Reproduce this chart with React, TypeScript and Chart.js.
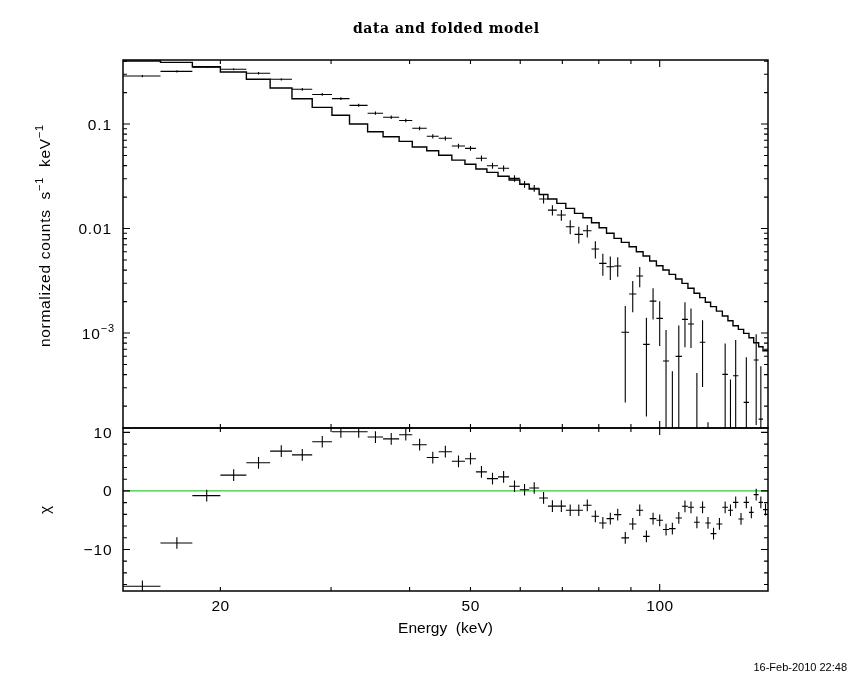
import React, { useEffect, useRef } from "react";
import { Chart, registerables } from "chart.js";

Chart.register(...registerables);

// ---------- data ----------
const binEdges = [
  14.0, 16.06, 18.05, 20.0, 22.0, 24.0, 26.0, 28.0, 30.1, 32.1, 34.3, 36.3, 38.5, 40.4, 42.6,
  44.5, 46.7, 49.0, 51.0, 53.1, 55.3, 57.6, 59.9, 62.0, 64.3, 66.4, 68.6, 70.9, 73.2, 75.5,
  77.9, 80.1, 82.3, 84.6, 86.9, 89.4, 91.8, 94.1, 96.4, 98.8, 101.2, 103.5, 106.0, 108.5, 110.9,
  113.4, 115.8, 118.2, 120.5, 123.1, 125.8, 128.4, 130.8, 133.4, 136.0, 138.7, 141.1, 143.7, 146.0,
  148.7,
];

const rate = [
  0.288, 0.319, 0.349, 0.334, 0.306, 0.268, 0.215, 0.192, 0.175, 0.151,
  0.127, 0.116, 0.108, 0.091, 0.0763, 0.073, 0.0616, 0.0585, 0.047, 0.0399,
  0.0377, 0.0302, 0.0265, 0.0243, 0.0192, 0.015, 0.01346, 0.0104, 0.0088, 0.00953,
  0.00637, 0.00464, 0.00431, 0.00438, 0.001016, 0.00236, 0.00351, 0.000779, 0.00202, 0.00138,
  0.00054, -0.00016, 0.000598, 0.00135, 0.00122, -0.000046, 0.000815, -0.00027, -0.00113, -0.00064,
  0.000402, -0.00005, 0.00039, -0.00083, 0.000217, -0.00056, 0.000552, 0.00015, -0.00028,
];

const rateErr = [
  0.0069, 0.0079, 0.006, 0.0072, 0.0079, 0.0069, 0.0066, 0.0057, 0.0053, 0.005,
  0.0046, 0.0045, 0.0041, 0.0039, 0.0036, 0.0034, 0.0032, 0.0031, 0.003, 0.0026,
  0.0025, 0.0022, 0.002, 0.0018, 0.0018, 0.0017, 0.0016, 0.0016, 0.0016, 0.0013,
  0.0012, 0.0011, 0.0011, 0.00093, 0.0008, 0.00078, 0.00077, 0.00062, 0.00067, 0.00063,
  0.00053, 0.00059, 0.00058, 0.00062, 0.0005, 0.00046, 0.00051, 0.00041, 0.0004, 0.0004,
  0.00039, 0.00041, 0.00047, 0.0004, 0.00037, 0.0004, 0.00042, 0.00033, 0.0003,
];

const model = [
  0.401, 0.389, 0.353, 0.3145, 0.268, 0.221, 0.1747, 0.1445, 0.1212, 0.1,
  0.0844, 0.0756, 0.0683, 0.0602, 0.0555, 0.0502, 0.0452, 0.0412, 0.0371, 0.0345,
  0.0316, 0.0291, 0.0265, 0.0239, 0.0212, 0.01916, 0.01742, 0.01561, 0.01398, 0.01269,
  0.01136, 0.01018, 0.009, 0.00806, 0.00738, 0.0067, 0.006, 0.00546, 0.00489, 0.00441,
  0.00401, 0.00364, 0.00329, 0.00299, 0.00268, 0.0024, 0.00218, 0.00197, 0.00179, 0.00162,
  0.001455, 0.00131, 0.001175, 0.001085, 0.000993, 0.000902, 0.000808, 0.00074, 0.000677,
];

const chi = [
  -16.3, -8.9, -0.8, 2.7, 4.8, 6.8, 6.15, 8.4, 10.1, 10.1,
  9.2, 8.9, 9.6, 7.9, 5.7, 6.7, 5.06, 5.5, 3.25, 2.1,
  2.4, 0.8, 0.2, 0.5, -1.2, -2.6, -2.6, -3.3, -3.3, -2.46,
  -4.34, -5.47, -4.74, -4.05, -8.03, -5.64, -3.3, -7.76, -4.74, -5.02,
  -6.6, -6.44, -4.62, -2.63, -2.8, -5.36, -2.8, -5.47, -7.3, -5.64,
  -2.8, -3.3, -1.95, -4.79, -1.95, -3.66, -0.63, -1.95, -3.2,
];
const CHI_ERR = 1;

const xMin = 14.0;
const xMax = 148.7;
const rateMin = 1.234e-4;
const rateMax = 0.41;
const chiMin = -17.1;
const chiMax = 10.75;

const xTickLabels = [20, 50, 100];
const rateTickLabels: [number, string, string][] = [
  [0.1, "0.1", ""],
  [0.01, "0.01", ""],
  [0.001, "10", "\u22123"],
];
const chiTickLabels: [number, string][] = [
  [10, "10"],
  [0, "0"],
  [-10, "\u221210"],
];

const titleText = "data and folded model";
const xTitle = "Energy  (keV)";
const stampText = "16-Feb-2010 22:48";

// ---------- helpers ----------
const binCenters = binEdges.slice(0, -1).map((lo, i) => (lo + binEdges[i + 1]) / 2);

const SANS = '"Liberation Sans", Arial, sans-serif';
const MAIN_FONT = `15.5px ${SANS}`;
const SUP_FONT = `11px ${SANS}`;

function logTicks(min: number, max: number) {
  const majors: number[] = [];
  const minors: number[] = [];
  for (let e = Math.floor(Math.log10(min)) - 1; e <= Math.ceil(Math.log10(max)); e++) {
    for (let m = 1; m < 10; m++) {
      const v = m * Math.pow(10, e);
      if (v < min * 0.9999 || v > max * 1.0001) continue;
      (m === 1 ? majors : minors).push(v);
    }
  }
  return { majors, minors };
}

type Run = { t: string; sup?: boolean };

function setSpacing(ctx: any, px: number) {
  if ("letterSpacing" in ctx) ctx.letterSpacing = `${px}px`;
}

function runsWidth(ctx: CanvasRenderingContext2D, runs: Run[]) {
  let w = 0;
  for (const r of runs) {
    ctx.font = r.sup ? SUP_FONT : MAIN_FONT;
    w += ctx.measureText(r.t).width;
  }
  return w;
}

function drawRuns(
  ctx: CanvasRenderingContext2D,
  runs: Run[],
  x: number,
  y: number,
  align: string,
  spacing = 0
) {
  setSpacing(ctx, spacing);
  const w = runsWidth(ctx, runs) - spacing;
  let cx = align === "right" ? x - w : align === "center" ? x - w / 2 : x;
  ctx.textAlign = "left";
  ctx.textBaseline = "alphabetic";
  for (const r of runs) {
    ctx.font = r.sup ? SUP_FONT : MAIN_FONT;
    ctx.fillText(r.t, cx, r.sup ? y - 6.5 : y);
    cx += ctx.measureText(r.t).width;
  }
  setSpacing(ctx, 0);
}

function drawCrosses(chart: any, yId: string, ds: any) {
  const { ctx, chartArea: a } = chart;
  const xs = chart.scales.x;
  const ys = chart.scales[yId];
  const isLog = ys.type === "logarithmic";
  const py = (v: number) => (isLog && v <= 0 ? a.bottom + 60 : ys.getPixelForValue(v));
  ctx.save();
  ctx.beginPath();
  ctx.rect(a.left, a.top, a.right - a.left, a.bottom - a.top);
  ctx.clip();
  ctx.strokeStyle = "#000";
  ctx.lineWidth = 1.1;
  ctx.beginPath();
  ds.data.forEach((p: any, i: number) => {
    const x0 = xs.getPixelForValue(ds.xLo[i]);
    const x1 = xs.getPixelForValue(ds.xHi[i]);
    const xc = xs.getPixelForValue(p.x);
    const yc = py(p.y);
    const yl = py(p.y - ds.errY[i]);
    const yh = py(p.y + ds.errY[i]);
    ctx.moveTo(x0, yc);
    ctx.lineTo(x1, yc);
    ctx.moveTo(xc, yl);
    ctx.lineTo(xc, yh);
  });
  ctx.stroke();
  ctx.restore();
}

function drawFrame(chart: any, yId: string) {
  const { ctx, chartArea: a } = chart;
  const xs = chart.scales.x;
  const ys = chart.scales[yId];
  ctx.save();
  ctx.strokeStyle = "#000";
  ctx.lineWidth = 1.1;
  ctx.beginPath();
  const xt = logTicks(xs.min, xs.max);
  const xTick = (v: number, len: number) => {
    const px = xs.getPixelForValue(v);
    ctx.moveTo(px, a.top);
    ctx.lineTo(px, a.top + len);
    ctx.moveTo(px, a.bottom);
    ctx.lineTo(px, a.bottom - len);
  };
  xt.majors.forEach((v) => xTick(v, 7));
  xt.minors.forEach((v) => xTick(v, 4));
  const yTick = (v: number, len: number) => {
    const py = ys.getPixelForValue(v);
    ctx.moveTo(a.left, py);
    ctx.lineTo(a.left + len, py);
    ctx.moveTo(a.right, py);
    ctx.lineTo(a.right - len, py);
  };
  if (ys.type === "logarithmic") {
    const yt = logTicks(ys.min, ys.max);
    yt.majors.forEach((v) => yTick(v, 7));
    yt.minors.forEach((v) => yTick(v, 4));
  } else {
    for (let v = Math.ceil(ys.min / 2) * 2; v <= ys.max; v += 2) {
      yTick(v, v % 10 === 0 ? 7 : 4);
    }
  }
  ctx.stroke();
  ctx.lineWidth = 1.5;
  ctx.strokeRect(a.left, a.top, a.right - a.left, a.bottom - a.top);
  ctx.restore();
}

const topPlugin = {
  id: "topPanel",
  afterDatasetsDraw(chart: any) {
    const ctx: CanvasRenderingContext2D = chart.ctx;
    drawCrosses(chart, "y", chart.data.datasets[1]);
    drawFrame(chart, "y");
    const ys = chart.scales.y;
    ctx.save();
    ctx.fillStyle = "#000";
    rateTickLabels.forEach(([v, main, sup]) => {
      const py = ys.getPixelForValue(v);
      const runs: Run[] = [{ t: main }];
      if (sup) runs.push({ t: sup, sup: true });
      drawRuns(ctx, runs, sup ? 114 : 111, py + 5.5, "right", 0.8);
    });
    // y-axis title, rotated
    ctx.save();
    ctx.translate(49.5, 236);
    ctx.rotate(-Math.PI / 2);
    drawRuns(
      ctx,
      [
        { t: "normalized counts  s" },
        { t: "\u22121", sup: true },
        { t: "  keV" },
        { t: "\u22121", sup: true },
      ],
      0,
      0,
      "center",
      0.7
    );
    ctx.restore();
    // title
    ctx.font = `bold 14px "DejaVu Serif", "Liberation Serif", serif`;
    const w = ctx.measureText(titleText).width;
    const target = 186;
    setSpacing(ctx, (target - w) / (titleText.length - 1));
    ctx.textAlign = "left";
    ctx.textBaseline = "alphabetic";
    ctx.fillText(titleText, 353, 33);
    setSpacing(ctx, 0);
    // time stamp
    ctx.font = `11px ${SANS}`;
    ctx.textAlign = "right";
    ctx.fillText(stampText, 847, 671);
    ctx.restore();
  },
};

const botPlugin = {
  id: "chiPanel",
  afterDatasetsDraw(chart: any) {
    const ctx: CanvasRenderingContext2D = chart.ctx;
    drawCrosses(chart, "y", chart.data.datasets[1]);
    drawFrame(chart, "y");
    const xs = chart.scales.x;
    const ys = chart.scales.y;
    ctx.save();
    ctx.fillStyle = "#000";
    chiTickLabels.forEach(([v, t]) => {
      drawRuns(ctx, [{ t }], 111.5, ys.getPixelForValue(v) + 5.5, "right", 0.8);
    });
    xTickLabels.forEach((v) => {
      drawRuns(ctx, [{ t: String(v) }], xs.getPixelForValue(v), 610.5, "center", 0.5);
    });
    const a = chart.chartArea;
    drawRuns(ctx, [{ t: xTitle }], (a.left + a.right) / 2, 632.5, "center");
    ctx.save();
    ctx.translate(49.5, 510);
    ctx.rotate(-Math.PI / 2);
    drawRuns(ctx, [{ t: "\u03c7" }], 0, 0, "center");
    ctx.restore();
    ctx.restore();
  },
};

function baseOptions(padding: any, yScale: any) {
  return {
    responsive: false,
    animation: false as const,
    events: [] as any[],
    layout: { padding },
    plugins: {
      legend: { display: false },
      tooltip: { enabled: false },
      title: { display: false },
    },
    scales: {
      x: { type: "logarithmic", min: xMin, max: xMax, display: false },
      y: { ...yScale, display: false },
    },
  };
}

export default function App() {
  const topRef = useRef<HTMLCanvasElement>(null);
  const botRef = useRef<HTMLCanvasElement>(null);

  useEffect(() => {
    const modelSteps = binEdges.map((e, i) => ({ x: e, y: model[Math.min(i, model.length - 1)] }));

    const top = new Chart(topRef.current as HTMLCanvasElement, {
      type: "line",
      data: {
        datasets: [
          {
            type: "line",
            data: modelSteps,
            stepped: true,
            borderColor: "#000",
            borderWidth: 1.4,
            pointRadius: 0,
            fill: false,
          } as any,
          {
            type: "scatter",
            data: binCenters.map((x, i) => ({ x, y: rate[i] })),
            pointRadius: 0,
            showLine: false,
            xLo: binEdges.slice(0, -1),
            xHi: binEdges.slice(1),
            errY: rateErr,
          } as any,
        ],
      },
      options: baseOptions(
        { left: 123, right: 82, top: 60, bottom: 252 },
        { type: "logarithmic", min: rateMin, max: rateMax }
      ) as any,
      plugins: [topPlugin],
    });

    const bot = new Chart(botRef.current as HTMLCanvasElement, {
      type: "line",
      data: {
        datasets: [
          {
            type: "line",
            data: [
              { x: xMin, y: 0 },
              { x: xMax, y: 0 },
            ],
            borderColor: "rgb(50,205,50)",
            borderWidth: 1.2,
            pointRadius: 0,
            fill: false,
          } as any,
          {
            type: "scatter",
            data: binCenters.map((x, i) => ({ x, y: chi[i] })),
            pointRadius: 0,
            showLine: false,
            xLo: binEdges.slice(0, -1),
            xHi: binEdges.slice(1),
            errY: chi.map(() => CHI_ERR),
          } as any,
        ],
      },
      options: baseOptions(
        { left: 123, right: 82, top: 428, bottom: 89 },
        { type: "linear", min: chiMin, max: chiMax }
      ) as any,
      plugins: [botPlugin],
    });

    return () => {
      top.destroy();
      bot.destroy();
    };
  }, []);

  const cs: React.CSSProperties = { position: "absolute", left: 0, top: 0, width: 850, height: 680 };
  return (
    <div style={{ position: "absolute", left: 0, top: 0, width: 850, height: 680, background: "#fff" }}>
      <canvas ref={topRef} width={850} height={680} style={cs} />
      <canvas ref={botRef} width={850} height={680} style={cs} />
    </div>
  );
}
